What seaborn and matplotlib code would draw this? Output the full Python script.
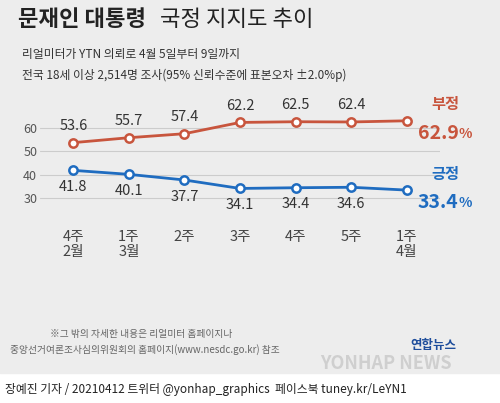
import matplotlib
matplotlib.use("Agg")
from matplotlib import pyplot as plt
import matplotlib.patches as mpatches
import pandas as pd
import seaborn as sns

weeks = ["4주\n2월", "1주\n3월", "2주", "3주", "4주", "5주", "1주\n4월"]
negative = [53.6, 55.7, 57.4, 62.2, 62.5, 62.4, 62.9]
positive = [41.8, 40.1, 37.7, 34.1, 34.4, 34.6, 33.4]
yticks = [30, 40, 50, 60]

RED = "#c8553d"
BLUE = "#1f6cc0"
BG = "#ededed"


def end_label(ax, x, y, name, value, color, dy_name):
    ax.annotate(name, (x, y), xytext=(18, dy_name), textcoords="offset points",
                ha="left", va="bottom", fontsize=11, color=color, fontweight="bold")
    t = ax.annotate(value, (x, y), xytext=(8, -2), textcoords="offset points",
                    ha="left", va="top", fontsize=14, color=color, fontweight="bold")
    ax.annotate("%", (1, 0.45), xycoords=t, xytext=(0, 0), textcoords="offset points",
                ha="left", va="center", fontsize=10, color=color, fontweight="bold")


def main() -> None:
    sns.set_style("white")
    plt.rcParams['font.family'] = ['Noto Sans CJK KR', 'DejaVu Sans']

    df = pd.DataFrame({"x": range(len(weeks)), "neg": negative, "pos": positive})

    fig = plt.figure(figsize=(5, 4.03), dpi=100)
    fig.patch.set_facecolor("white")
    fig.patches.append(mpatches.Rectangle((0, 30 / 403), 1, 1, transform=fig.transFigure,
                                          color=BG, zorder=-10))

    ax = fig.add_axes([0.08, 0.491, 0.80, 0.239])
    ax.set_facecolor(BG)
    for col, color in [("neg", RED), ("pos", BLUE)]:
        sns.lineplot(data=df, x="x", y=col, ax=ax, color=color, lw=2, marker="o",
                     markersize=6, markerfacecolor="white", markeredgecolor=color,
                     markeredgewidth=1.8)

    for i, (n, p) in enumerate(zip(negative, positive)):
        if i < len(weeks) - 1:
            ax.annotate(f"{n}", (i, n), xytext=(0, 7), textcoords="offset points",
                        ha="center", va="bottom", fontsize=10.5, color="#333333")
            ax.annotate(f"{p}", (i, p), xytext=(0, -7), textcoords="offset points",
                        ha="center", va="top", fontsize=10.5, color="#333333")

    end_label(ax, 6, negative[-1], "부정", "62.9", RED, 6)
    end_label(ax, 6, positive[-1], "긍정", "33.4", BLUE, 6)

    ax.set_xlim(-0.6, 6.6)
    ax.set_ylim(27, 68)
    ax.set_yticks(yticks)
    ax.set_xticks(range(len(weeks)))
    ax.set_xticklabels(weeks, fontsize=10.5, color="#444444", linespacing=1.1)
    ax.tick_params(axis="y", labelsize=9, colors="#555555", length=0, pad=2)
    ax.tick_params(axis="x", length=0, pad=18)
    ax.grid(axis="y", color="#cccccc", lw=0.8)
    for s in ax.spines.values():
        s.set_visible(False)
    ax.set(xlabel="", ylabel="")

    fig.text(0.035, 0.935, "문재인 대통령", fontsize=16, fontweight="bold", color="#222222")
    fig.text(0.32, 0.935, "국정 지지도 추이", fontsize=16, color="#222222")
    fig.text(0.045, 0.855, "리얼미터가 YTN 의뢰로 4월 5일부터 9일까지", fontsize=8.5, color="#333333")
    fig.text(0.045, 0.805, "전국 18세 이상 2,514명 조사(95% 신뢰수준에 표본오차 ±2.0%p)", fontsize=8.5, color="#333333")
    fig.text(0.1, 0.165, "※그 밖의 자세한 내용은 리얼미터 홈페이지나", fontsize=7, color="#666666", style="italic")
    fig.text(0.02, 0.125, "중앙선거여론조사심의위원회의 홈페이지(www.nesdc.go.kr) 참조", fontsize=7, color="#666666", style="italic")
    fig.text(0.82, 0.135, "연합뉴스", fontsize=9, color="#1f4e9c", fontweight="bold")
    fig.text(0.64, 0.085, "YONHAP NEWS", fontsize=13, color="#cfcfcf", fontweight="bold", style="italic")
    fig.text(0.01, 0.025, "장예진 기자 / 20210412 트위터 @yonhap_graphics  페이스북 tuney.kr/LeYN1",
             fontsize=8.5, color="#222222")

    fig.savefig("out.png", dpi=100)


if __name__ == "__main__":
    main()
